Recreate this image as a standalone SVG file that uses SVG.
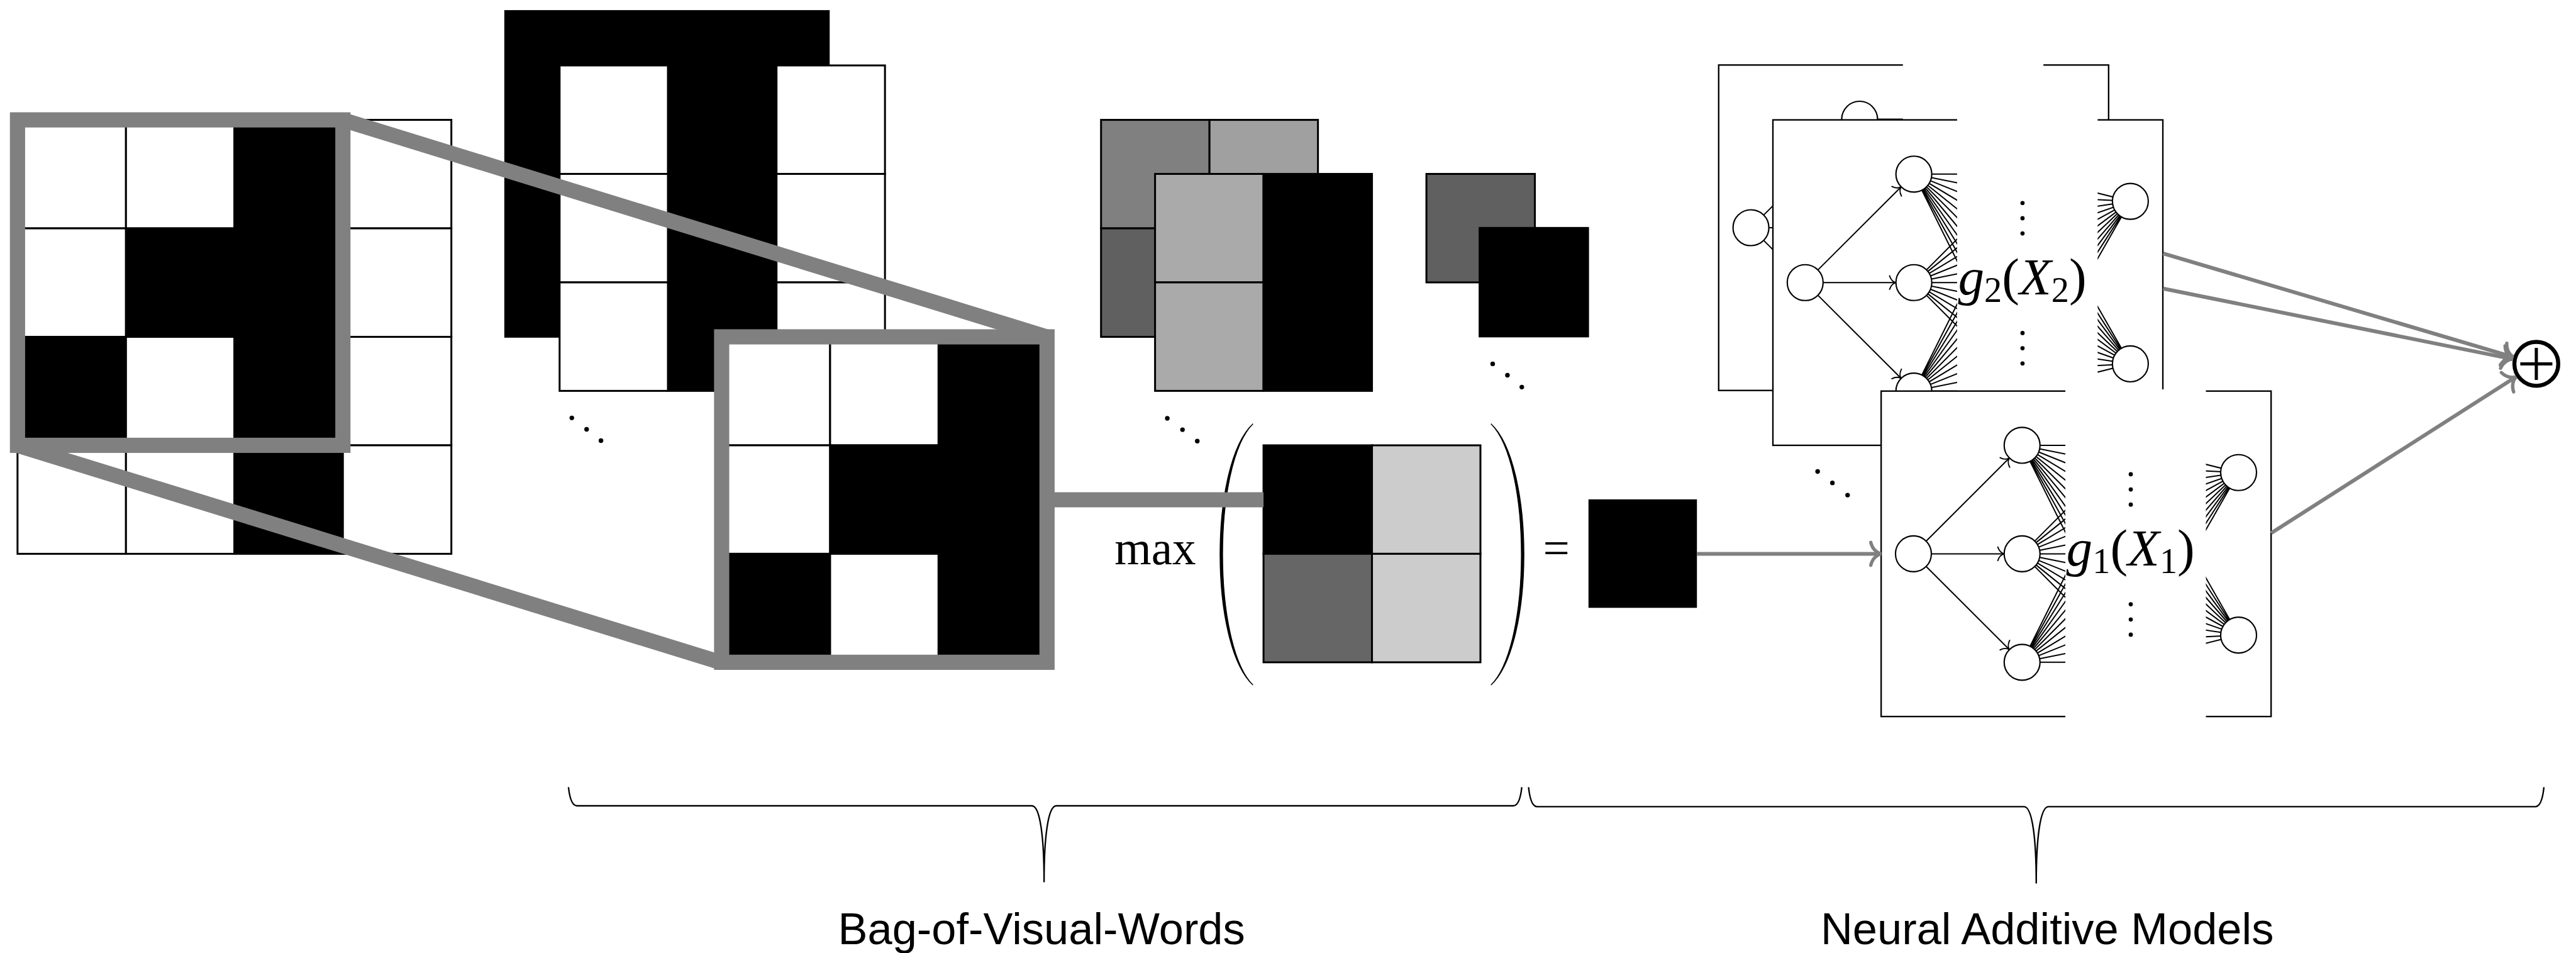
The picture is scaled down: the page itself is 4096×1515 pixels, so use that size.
<svg xmlns="http://www.w3.org/2000/svg" xmlns:xlink="http://www.w3.org/1999/xlink" width="4096" height="1515" viewBox="0 0 4096 1515">
  <style>
    .cw { fill: #fff; stroke: #000; stroke-width: 4.5; }
    .cb { fill: #000; stroke: #000; stroke-width: 4.5; }
    .hl { fill: none; stroke: #808080; stroke-width: 36; }
    .nl { fill: none; stroke: #000; stroke-width: 3; }
    .nd { fill: #fff; stroke: #000; stroke-width: 3.2; }
    .box { fill: #fff; stroke: #000; stroke-width: 3.5; }
    .gy { fill: none; stroke: #808080; stroke-width: 9; }
    .dot { fill: #000; }
    .math { font-family: "Liberation Serif", "DejaVu Serif", serif; font-size: 112px; fill: #000; }
    .fn { font-size: 124px; }
    .it { font-style: italic; }
    .cap { font-family: "Liberation Sans", Arial, sans-serif; font-size: 105px; fill: #000; }
    .brace { fill: none; stroke: #000; stroke-width: 3.5; }
  </style>
  <defs>
    <marker id="toGray" viewBox="-40 -40 80 80" markerWidth="80" markerHeight="80" refX="0" refY="0" orient="auto" markerUnits="userSpaceOnUse">
      <path d="M-24,-27 C-20,-10 -8,-2 0,0 C-8,2 -20,10 -24,27" fill="none" stroke="#808080" stroke-width="8" stroke-linecap="round"/>
    </marker>
    <marker id="toBlack" viewBox="-25 -25 50 50" markerWidth="50" markerHeight="50" refX="0" refY="0" orient="auto" markerUnits="userSpaceOnUse">
      <path d="M-15,-16 C-12,-6 -5,-1 0,0 C-5,1 -12,6 -15,16" fill="none" stroke="#000" stroke-width="3" stroke-linecap="round"/>
    </marker>
    <!-- one shape-function sub-network, drawn in box-local coordinates (924 x 771) -->
    <g id="net">
      <rect class="box" x="0" y="0" width="924" height="771"/>
      <!-- hidden layer 1 to hidden layer 2 -->
      <path class="nl" d="M334,128.5 L590,128.5 M334,128.5 L590,179.9 M334,128.5 L590,231.3 M334,128.5 L590,282.7 M334,128.5 L590,334.1 M334,128.5 L590,385.5 M334,128.5 L590,436.9 M334,128.5 L590,488.3 M334,128.5 L590,539.7 M334,128.5 L590,591.1 M334,128.5 L590,642.5
        M334,385.5 L590,128.5 M334,385.5 L590,179.9 M334,385.5 L590,231.3 M334,385.5 L590,282.7 M334,385.5 L590,334.1 M334,385.5 L590,385.5 M334,385.5 L590,436.9 M334,385.5 L590,488.3 M334,385.5 L590,539.7 M334,385.5 L590,591.1 M334,385.5 L590,642.5
        M334,642.5 L590,128.5 M334,642.5 L590,179.9 M334,642.5 L590,231.3 M334,642.5 L590,282.7 M334,642.5 L590,334.1 M334,642.5 L590,385.5 M334,642.5 L590,436.9 M334,642.5 L590,488.3 M334,642.5 L590,539.7 M334,642.5 L590,591.1 M334,642.5 L590,642.5"/>
      <!-- last hidden layer to output units -->
      <path class="nl" d="M590,128.5 L847,193 M590,179.9 L847,193 M590,231.3 L847,193 M590,282.7 L847,193 M590,334.1 L847,193 M590,385.5 L847,193 M590,436.9 L847,193 M590,488.3 L847,193 M590,539.7 L847,193 M590,591.1 L847,193 M590,642.5 L847,193
        M590,128.5 L847,578 M590,179.9 L847,578 M590,231.3 L847,578 M590,282.7 L847,578 M590,334.1 L847,578 M590,385.5 L847,578 M590,436.9 L847,578 M590,488.3 L847,578 M590,539.7 L847,578 M590,591.1 L847,578 M590,642.5 L847,578"/>
      <!-- input to hidden layer 1 -->
      <path class="nl" d="M106.6,355.5 L303.9,158.5" marker-end="url(#toBlack)"/>
      <path class="nl" d="M119,385.5 L291.5,385.5" marker-end="url(#toBlack)"/>
      <path class="nl" d="M106.6,415.5 L303.9,612.5" marker-end="url(#toBlack)"/>
      <circle class="nd" cx="76.5" cy="385.5" r="42.5"/>
      <circle class="nd" cx="334" cy="128.5" r="42.5"/>
      <circle class="nd" cx="334" cy="385.5" r="42.5"/>
      <circle class="nd" cx="334" cy="642.5" r="42.5"/>
      <circle class="nd" cx="847" cy="193" r="42.5"/>
      <circle class="nd" cx="847" cy="578" r="42.5"/>
      <!-- blank band hiding the inner layers -->
      <rect x="436.5" y="-4" width="333" height="779" fill="#fff"/>
      <circle class="dot" cx="591.5" cy="197" r="5"/>
      <circle class="dot" cx="591.5" cy="233" r="5"/>
      <circle class="dot" cx="591.5" cy="269" r="5"/>
      <circle class="dot" cx="591.5" cy="505" r="5"/>
      <circle class="dot" cx="591.5" cy="541" r="5"/>
      <circle class="dot" cx="591.5" cy="577" r="5"/>
    </g>
  </defs>

  <rect x="0" y="0" width="4096" height="1515" fill="#fff"/>

  <g transform="scale(0.671035)">

    <!-- input image: 4 x 4 binary grid with highlighted 3 x 3 window -->
    <g id="input-grid">
      <rect class="cw" x="41.5" y="284" width="257" height="257"/>
      <rect class="cw" x="298.5" y="284" width="257" height="257"/>
      <rect class="cb" x="555.5" y="284" width="257" height="257"/>
      <rect class="cw" x="812.5" y="284" width="257" height="257"/>
      <rect class="cw" x="41.5" y="541" width="257" height="257"/>
      <rect class="cb" x="298.5" y="541" width="257" height="257"/>
      <rect class="cb" x="555.5" y="541" width="257" height="257"/>
      <rect class="cw" x="812.5" y="541" width="257" height="257"/>
      <rect class="cb" x="41.5" y="798" width="257" height="257"/>
      <rect class="cw" x="298.5" y="798" width="257" height="257"/>
      <rect class="cb" x="555.5" y="798" width="257" height="257"/>
      <rect class="cw" x="812.5" y="798" width="257" height="257"/>
      <rect class="cw" x="41.5" y="1055" width="257" height="257"/>
      <rect class="cw" x="298.5" y="1055" width="257" height="257"/>
      <rect class="cb" x="555.5" y="1055" width="257" height="257"/>
      <rect class="cw" x="812.5" y="1055" width="257" height="257"/>
      <rect class="hl" x="41.5" y="284" width="771" height="771"/>
    </g>

    <!-- stack of visual-word patterns -->
    <g id="word-stack">
      <rect x="1195" y="24" width="771" height="776" fill="#000"/>
      <rect class="cw" x="1326" y="155" width="257" height="257"/>
      <rect class="cb" x="1583" y="155" width="257" height="257"/>
      <rect class="cw" x="1840" y="155" width="257" height="257"/>
      <rect class="cw" x="1326" y="412" width="257" height="257"/>
      <rect class="cb" x="1583" y="412" width="257" height="257"/>
      <rect class="cw" x="1840" y="412" width="257" height="257"/>
      <rect class="cw" x="1326" y="669" width="257" height="257"/>
      <rect class="cb" x="1583" y="669" width="257" height="257"/>
      <rect class="cw" x="1840" y="669" width="257" height="257"/>
      <circle class="dot" cx="1355" cy="990" r="5.5"/>
      <circle class="dot" cx="1390" cy="1017" r="5.5"/>
      <circle class="dot" cx="1424" cy="1044" r="5.5"/>
    </g>

    <!-- enlarged 3 x 3 window -->
    <g id="window">
      <rect class="cw" x="1710" y="798" width="257" height="257"/>
      <rect class="cw" x="1967" y="798" width="257" height="257"/>
      <rect class="cb" x="2224" y="798" width="257" height="257"/>
      <rect class="cw" x="1710" y="1055" width="257" height="257"/>
      <rect class="cb" x="1967" y="1055" width="257" height="257"/>
      <rect class="cb" x="2224" y="1055" width="257" height="257"/>
      <rect class="cb" x="1710" y="1312" width="257" height="257"/>
      <rect class="cw" x="1967" y="1312" width="257" height="257"/>
      <rect class="cb" x="2224" y="1312" width="257" height="257"/>
      <rect class="hl" x="1710" y="798" width="771" height="771"/>
    </g>

    <!-- response maps, 2 x 2 -->
    <g id="response-maps">
      <g stroke="#000" stroke-width="4.5">
        <rect x="2609" y="284" width="257" height="257" fill="#808080"/>
        <rect x="2866" y="284" width="257" height="257" fill="#a0a0a0"/>
        <rect x="2609" y="541" width="257" height="257" fill="#606060"/>
        <rect x="2866" y="541" width="257" height="257" fill="#808080"/>
        <rect x="2737" y="412" width="257" height="257" fill="#aaaaaa"/>
        <rect x="2994" y="412" width="257" height="257" fill="#000"/>
        <rect x="2737" y="669" width="257" height="257" fill="#aaaaaa"/>
        <rect x="2994" y="669" width="257" height="257" fill="#000"/>
      </g>
      <circle class="dot" cx="2766" cy="991" r="5.5"/>
      <circle class="dot" cx="2802" cy="1018" r="5.5"/>
      <circle class="dot" cx="2837" cy="1045" r="5.5"/>
    </g>

    <!-- pooled values -->
    <g id="pooled-stack">
      <rect x="3380" y="412" width="257" height="257" fill="#606060" stroke="#000" stroke-width="4.5"/>
      <rect x="3506" y="540" width="257" height="257" fill="#000" stroke="#000" stroke-width="4.5"/>
      <circle class="dot" cx="3537" cy="862" r="5.5"/>
      <circle class="dot" cx="3572" cy="889" r="5.5"/>
      <circle class="dot" cx="3606" cy="917" r="5.5"/>
    </g>

    <!-- max pooling expression -->
    <g id="max-pool">
      <text class="math" x="2641" y="1336">max</text>
      <path d="M2969,1004 C2865,1100 2865,1527 2969,1623 C2873,1527 2873,1100 2969,1004 Z" fill="#000" stroke="#000" stroke-width="2"/>
      <g stroke="#000" stroke-width="4.5">
        <rect x="2994" y="1055" width="257" height="257" fill="#000"/>
        <rect x="3251" y="1055" width="257" height="257" fill="#cccccc"/>
        <rect x="2994" y="1312" width="257" height="257" fill="#666666"/>
        <rect x="3251" y="1312" width="257" height="257" fill="#cccccc"/>
      </g>
      <path d="M3533,1004 C3637,1100 3637,1527 3533,1623 C3629,1527 3629,1100 3533,1004 Z" fill="#000" stroke="#000" stroke-width="2"/>
      <text class="math" x="3688" y="1337" text-anchor="middle">=</text>
    </g>

    <g id="pooled-value">
      <rect x="3764" y="1183" width="257" height="257" fill="#000"/>
    </g>

    <!-- neural additive model: one sub-network per feature -->
    <g id="nam-3">
      <use xlink:href="#net" href="#net" x="4072.5" y="154"/>
    </g>
    <g id="nam-2">
      <use xlink:href="#net" href="#net" x="4201" y="284"/>
      <text class="math fn" x="4792" y="697" text-anchor="middle"><tspan class="it">g</tspan><tspan font-size="84" dy="18">2</tspan><tspan dy="-18">(</tspan><tspan class="it">X</tspan><tspan font-size="84" dy="18">2</tspan><tspan dy="-18">)</tspan></text>
    </g>
    <g id="nam-1">
      <use xlink:href="#net" href="#net" x="4457.5" y="926.5"/>
      <text class="math fn" x="5048.5" y="1339.5" text-anchor="middle"><tspan class="it">g</tspan><tspan font-size="84" dy="18">1</tspan><tspan dy="-18">(</tspan><tspan class="it">X</tspan><tspan font-size="84" dy="18">1</tspan><tspan dy="-18">)</tspan></text>
    </g>
    <g id="nam-more">
      <circle class="dot" cx="4307" cy="1117" r="5.5"/>
      <circle class="dot" cx="4342" cy="1144" r="5.5"/>
      <circle class="dot" cx="4378" cy="1173" r="5.5"/>
    </g>

    <!-- summation node -->
    <g id="sum">
      <circle cx="6010" cy="862" r="52" fill="#fff" stroke="#000" stroke-width="9.5"/>
      <path d="M5972,862 L6048,862 M6010,824 L6010,900" stroke="#000" stroke-width="7.5"/>
    </g>

    <!-- connectors -->
    <g id="connectors">
      <path class="hl" d="M812,284 L2480,798"/>
      <path class="hl" d="M41.5,1055 L1710,1570"/>
      <path class="hl" d="M2480,1184 L2994,1184"/>
      <path class="gy" d="M4021,1312 L4457,1312" marker-end="url(#toGray)"/>
      <path class="gy" d="M5125.6,600.5 L5955.3,845.8" marker-end="url(#toGray)"/>
      <path class="gy" d="M5125.6,683.7 L5954.1,850.7" marker-end="url(#toGray)"/>
      <path class="gy" d="M5381.6,1263 L5962,892.7" marker-end="url(#toGray)"/>
    </g>

    <!-- section braces and captions -->
    <g id="bovw-brace">
      <path class="brace" d="M1347,1865 C1350,1892 1356,1909 1367,1909 L2445,1909 C2465,1909 2474,1985 2474,2090 C2474,1985 2483,1909 2503,1909 L3586,1909 C3597,1909 3603,1892 3606,1865"/>
      <text class="cap" x="2468" y="2237" text-anchor="middle">Bag-of-Visual-Words</text>
    </g>
    <g id="nam-brace">
      <path class="brace" d="M3622,1865 C3625,1893 3631,1911 3642,1911 L4796,1911 C4816,1911 4825,1988 4825,2093 C4825,1988 4834,1911 4854,1911 L6008,1911 C6019,1911 6025,1893 6028,1865"/>
      <text class="cap" x="4851" y="2237" text-anchor="middle">Neural Additive Models</text>
    </g>
  </g>
</svg>
